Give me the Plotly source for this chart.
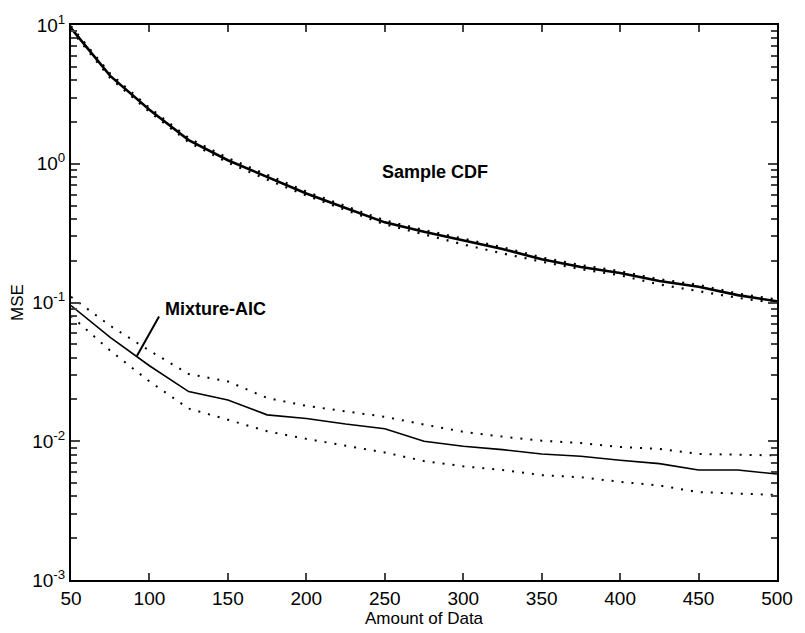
import plotly.graph_objects as go

# ---- data ----
amount = [50, 75, 100, 125, 150, 175, 200, 225, 250, 275, 300, 325, 350, 375, 400, 425, 450, 475, 500]

cdf_mean = [9.5, 4.3, 2.45, 1.48, 1.06, 0.80, 0.61, 0.48, 0.378, 0.323, 0.28, 0.243, 0.205, 0.18, 0.163, 0.143, 0.13, 0.113, 0.102]
cdf_upper = [9.8, 4.45, 2.53, 1.53, 1.10, 0.83, 0.63, 0.495, 0.39, 0.333, 0.288, 0.25, 0.211, 0.186, 0.168, 0.147, 0.134, 0.116, 0.105]
cdf_lower = [9.2, 4.15, 2.37, 1.43, 1.02, 0.77, 0.59, 0.465, 0.366, 0.31, 0.262, 0.226, 0.197, 0.174, 0.157, 0.135, 0.121, 0.108, 0.099]

aic_mean = [0.095, 0.056, 0.035, 0.0228, 0.0198, 0.0155, 0.0146, 0.0133, 0.0123, 0.0100, 0.0092, 0.0087, 0.0081, 0.0078, 0.0073, 0.0069, 0.0062, 0.0062, 0.0058]
aic_upper = [0.11, 0.068, 0.045, 0.0305, 0.027, 0.0205, 0.0180, 0.0165, 0.0150, 0.0132, 0.0117, 0.0108, 0.0101, 0.0097, 0.0091, 0.0088, 0.0081, 0.0080, 0.0079]
aic_lower = [0.080, 0.045, 0.027, 0.0172, 0.0143, 0.0118, 0.0104, 0.0093, 0.0083, 0.0072, 0.0066, 0.0062, 0.0057, 0.0055, 0.0051, 0.0048, 0.0043, 0.0042, 0.0041]

x_ticks = [50, 100, 150, 200, 250, 300, 350, 400, 450, 500]
y_ticks = [1e-3, 1e-2, 1e-1, 1e0, 1e1]
y_ticktext = ["10<sup>-3</sup>", "10<sup>-2</sup>", "10<sup>-1</sup>", "10<sup>0</sup>", "10<sup>1</sup>"]

FONT = "Liberation Sans, Arial, Helvetica, sans-serif"
DOT = "2px,8px"

fig = go.Figure()

# Sample CDF
fig.add_trace(go.Scatter(x=amount, y=cdf_upper, mode="lines",
                         line=dict(color="black", width=2.2, dash=DOT), showlegend=False))
fig.add_trace(go.Scatter(x=amount, y=cdf_lower, mode="lines",
                         line=dict(color="black", width=2.2, dash=DOT), showlegend=False))
fig.add_trace(go.Scatter(x=amount, y=cdf_mean, mode="lines",
                         line=dict(color="black", width=2.6), showlegend=False))

# Mixture-AIC
fig.add_trace(go.Scatter(x=amount, y=aic_upper, mode="lines",
                         line=dict(color="black", width=2, dash=DOT), showlegend=False))
fig.add_trace(go.Scatter(x=amount, y=aic_lower, mode="lines",
                         line=dict(color="black", width=2, dash=DOT), showlegend=False))
fig.add_trace(go.Scatter(x=amount, y=aic_mean, mode="lines",
                         line=dict(color="black", width=1.6), showlegend=False))

minor_y = [m * 10 ** e for e in range(-3, 1) for m in range(2, 10)]

fig.update_layout(
    width=805, height=633,
    margin=dict(l=71, r=23, t=20, b=41),
    paper_bgcolor="white", plot_bgcolor="white",
    font=dict(family=FONT, color="black", size=19),
    xaxis=dict(
        range=[50, 500], tickvals=x_ticks, ticks="inside", ticklen=7, tickwidth=1.5,
        showline=True, linewidth=2, linecolor="black", mirror="ticks",
        showgrid=False, zeroline=False,
        tickfont=dict(size=19, family=FONT),
        title=dict(text="Amount of Data", font=dict(size=17, family=FONT), standoff=0),
    ),
    yaxis=dict(
        type="log", range=[-3, 1], tickvals=y_ticks, ticktext=y_ticktext,
        ticks="inside", ticklen=9, tickwidth=1.5,
        showline=True, linewidth=2, linecolor="black", mirror="ticks",
        showgrid=False, zeroline=False,
        tickfont=dict(size=19, family=FONT),
        minor=dict(tickvals=minor_y, ticks="inside", ticklen=6, tickwidth=1.5, showgrid=False),
        title=dict(text="MSE", font=dict(size=17, family=FONT), standoff=4),
    ),
)

fig.add_annotation(x=282, y=-0.058, xref="x", yref="y", text="<b>Sample CDF</b>",
                   showarrow=False, font=dict(size=18, family=FONT, color="black"))
fig.add_annotation(x=142, y=-1.046, xref="x", yref="y", text="<b>Mixture-AIC</b>",
                   showarrow=False, font=dict(size=18, family=FONT, color="black"))
fig.add_annotation(x=92, y=-1.385, xref="x", yref="y", text="", showarrow=True,
                   ax=23, ay=-41, arrowhead=0, arrowwidth=2, arrowcolor="black", standoff=0)

fig.write_html("out.html")
